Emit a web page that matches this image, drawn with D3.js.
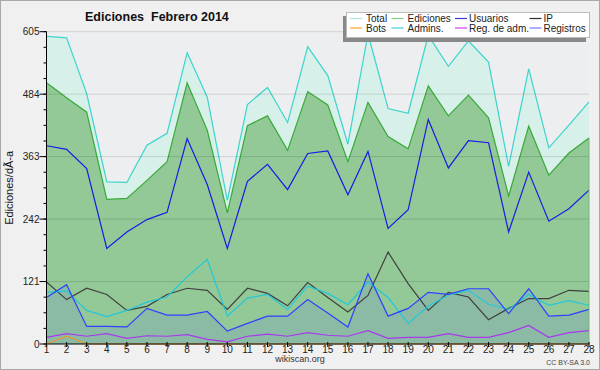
<!DOCTYPE html>
<html>
<head>
<meta charset="utf-8">
<script src="https://cdn.jsdelivr.net/npm/d3@7"></script>
<style>
  body { margin: 0; background: #f0f0f0; }
  svg { display: block; font-family: "Liberation Sans", Arial, sans-serif; }
</style>
</head>
<body>
<div id="chart"></div>
<script>
// Days of February 2014
const days = d3.range(1, 29);

// Series values
const total = [596, 593, 485, 314, 313, 385, 408, 564, 478, 278, 464, 497, 429, 576,
  520, 387, 601, 456, 447, 598, 538, 587, 546, 344, 533, 380, 424, 469];
const ediciones = [506, 477, 449, 280, 282, 317, 353, 506, 414, 254, 423, 442, 375, 489,
  463, 353, 468, 402, 378, 500, 442, 482, 438, 287, 422, 327, 370, 399];
const usuarios = [384, 377, 340, 185, 217, 241, 255, 398, 309, 185, 315, 348, 299, 369,
  374, 289, 373, 224, 260, 435, 341, 394, 390, 217, 333, 238, 262, 298];
const ip = [120, 86, 108, 96, 65, 73, 96, 108, 104, 67, 108, 98, 74, 119,
  90, 62, 94, 178, 117, 65, 100, 91, 47, 69, 88, 88, 104, 102];
const bots = [0, 15, 0, 0, 0, 0, 0, 0, 0, 0, 0, 0, 0, 0,
  0, 0, 0, 0, 0, 0, 0, 0, 0, 0, 0, 0, 0, 0];
const admins = [100, 103, 65, 53, 65, 81, 91, 130, 164, 54, 89, 96, 67, 112,
  98, 76, 120, 90, 40, 73, 95, 104, 77, 67, 96, 75, 84, 75];
const regAdm = [13, 20, 15, 20, 11, 16, 15, 18, 9, 4, 15, 19, 15, 22,
  17, 15, 26, 11, 13, 13, 20, 13, 13, 22, 36, 13, 22, 26];
const registros = [90, 115, 34, 34, 33, 69, 56, 56, 63, 25, 40, 54, 54, 86,
  60, 33, 136, 54, 69, 100, 96, 107, 107, 59, 107, 54, 56, 67];

const yMajor = [0, 121, 242, 363, 484, 605];
const yMinor = d3.range(0, 21).map(i => i * 30.25);

const legendNames = ["Total", "Ediciones", "Usuarios", "IP", "Bots", "Admins.", "Reg. de adm.", "Registros"];
const legendColors = ["#a8e8e0", "#80d080", "#3838e0", "#303030", "#ffa030", "#40d0e0", "#d040f0", "#7878ff"];

const width = 600, height = 370;
const margin = { top: 31.7, right: 11, bottom: 26, left: 46.5 };

const svg = d3.select("#chart").append("svg")
  .attr("width", width)
  .attr("height", height);

svg.append("rect")
  .attr("x", 0.5).attr("y", 0.5)
  .attr("width", width - 1).attr("height", height - 1)
  .attr("fill", "#f0f0f0")
  .attr("stroke", "#a8a8a8");

const x = d3.scaleLinear()
  .domain([1, 28])
  .range([margin.left, width - margin.right]);

const y = d3.scaleLinear()
  .domain([0, 605])
  .range([height - margin.bottom, margin.top]);

// plot background
svg.append("rect")
  .attr("x", x(1)).attr("y", y(605))
  .attr("width", x(28) - x(1)).attr("height", y(0) - y(605))
  .attr("fill", "#eceef0");

const area = vals => d3.area()
  .x((d, i) => x(days[i]))
  .y0(y(0))
  .y1(d => y(d))(vals);

const line = vals => d3.line()
  .x((d, i) => x(days[i]))
  .y(d => y(d))(vals);

// Total
svg.append("path").attr("d", area(total)).attr("fill", "#d8f0ea");
svg.append("path").attr("d", line(total)).attr("fill", "none")
  .attr("stroke", "#3cd4cc").attr("stroke-width", 1.2);

// Ediciones
svg.append("path").attr("d", area(ediciones)).attr("fill", "#92c996");
svg.append("path").attr("d", line(ediciones)).attr("fill", "none")
  .attr("stroke", "#38aa38").attr("stroke-width", 1.2);

// Registros area
svg.append("path").attr("d", area(registros)).attr("fill", "#7a9cc8").attr("fill-opacity", 0.3);

// grid lines
svg.append("g").selectAll("line")
  .data(yMajor.slice(1))
  .enter().append("line")
  .attr("x1", x(1)).attr("x2", x(28))
  .attr("y1", d => y(d)).attr("y2", d => y(d))
  .attr("stroke", "#000").attr("stroke-opacity", 0.12);

const lineSeries = [
  { vals: ip, color: "#404040" },
  { vals: admins, color: "#22c8dc" },
  { vals: registros, color: "#3040ff" },
  { vals: regAdm, color: "#a838ee" },
  { vals: bots, color: "#e89830" },
  { vals: usuarios, color: "#1a1ae8" }
];

svg.append("g").selectAll("path")
  .data(lineSeries)
  .enter().append("path")
  .attr("d", d => line(d.vals))
  .attr("fill", "none")
  .attr("stroke", d => d.color)
  .attr("stroke-width", 1.2);

// right edge of plot
svg.append("line")
  .attr("x1", x(28)).attr("x2", x(28))
  .attr("y1", y(0)).attr("y2", y(ediciones[27]))
  .attr("stroke", "#70b878");

// y axis
const yAxis = svg.append("g");
yAxis.append("line")
  .attr("x1", x(1)).attr("x2", x(1))
  .attr("y1", y(0)).attr("y2", y(605))
  .attr("stroke", "#000");
yAxis.selectAll("line.minor")
  .data(yMinor)
  .enter().append("line")
  .attr("class", "minor")
  .attr("x1", x(1) - 3).attr("x2", x(1))
  .attr("y1", d => y(d)).attr("y2", d => y(d))
  .attr("stroke", "#000");
yAxis.selectAll("line.major")
  .data(yMajor)
  .enter().append("line")
  .attr("class", "major")
  .attr("x1", x(1) - 7).attr("x2", x(1))
  .attr("y1", d => y(d)).attr("y2", d => y(d))
  .attr("stroke", "#000");
yAxis.selectAll("text")
  .data(yMajor)
  .enter().append("text")
  .attr("x", x(1) - 7)
  .attr("y", d => y(d))
  .attr("dy", "0.35em")
  .attr("text-anchor", "end")
  .style("font-size", "10px")
  .attr("fill", "#222")
  .text(d => d);

// x axis
const xAxis = svg.append("g");
xAxis.append("line")
  .attr("x1", x(1)).attr("x2", x(28))
  .attr("y1", y(0)).attr("y2", y(0))
  .attr("stroke", "#000");
xAxis.selectAll("line.tick")
  .data(days)
  .enter().append("line")
  .attr("class", "tick")
  .attr("x1", d => x(d)).attr("x2", d => x(d))
  .attr("y1", y(0) - 2).attr("y2", y(0) + 3)
  .attr("stroke", "#000");
xAxis.selectAll("text")
  .data(days)
  .enter().append("text")
  .attr("x", d => x(d))
  .attr("y", y(0) + 9)
  .attr("text-anchor", "middle")
  .style("font-size", "10px")
  .attr("fill", "#222")
  .text(d => d);

// titles
svg.append("text")
  .attr("x", 85).attr("y", 21)
  .style("font-size", "12.5px")
  .style("font-weight", "bold")
  .attr("fill", "#111")
  .attr("xml:space", "preserve")
  .text("Ediciones  Febrero 2014");

svg.append("text")
  .attr("transform", `translate(13,${(y(0) + y(605)) / 2}) rotate(-90)`)
  .attr("text-anchor", "middle")
  .style("font-size", "11px")
  .attr("fill", "#111")
  .text("Ediciones/dÃ-a");

svg.append("text")
  .attr("x", 300).attr("y", 362)
  .attr("text-anchor", "middle")
  .style("font-size", "9px")
  .attr("fill", "#333")
  .text("wikiscan.org");

svg.append("text")
  .attr("x", 590).attr("y", 365)
  .attr("text-anchor", "end")
  .style("font-size", "7px")
  .attr("fill", "#444")
  .text("CC BY-SA 3.0");

// legend
const legend = svg.append("g");
legend.append("rect")
  .attr("x", 343).attr("y", 16)
  .attr("width", 243).attr("height", 26)
  .attr("fill", "#888");
legend.append("rect")
  .attr("x", 346.5).attr("y", 12.5)
  .attr("width", 243).attr("height", 25)
  .attr("fill", "#fff")
  .attr("stroke", "#bbb");

const colX = [350, 391.5, 455, 529.5];
const rowY = [18.5, 28];
const items = legend.selectAll("g.item")
  .data(legendNames)
  .enter().append("g")
  .attr("class", "item")
  .attr("transform", (d, i) => `translate(${colX[i % 4]},${rowY[Math.floor(i / 4)]})`);
items.append("line")
  .attr("x1", 0).attr("x2", 12)
  .attr("stroke", (d, i) => legendColors[i])
  .attr("stroke-width", 1.2);
items.append("text")
  .attr("x", (d, i) => [16, 16, 14, 14][i % 4])
  .attr("dy", "0.35em")
  .style("font-size", "10px")
  .attr("fill", "#222")
  .text(d => d);
</script>
</body>
</html>
